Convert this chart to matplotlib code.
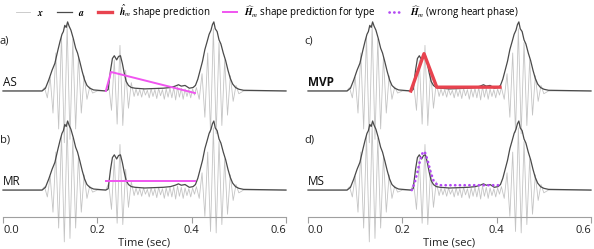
import numpy as np
import matplotlib.pyplot as plt

plt.rcParams['font.family'] = ['Open Sans', 'DejaVu Sans']
plt.rcParams['mathtext.fontset'] = 'stix'

# heart sound x (peak/valley points)
x_t = [0.0, 0.082,
       0.088, 0.094, 0.100, 0.106, 0.112, 0.118, 0.124, 0.130, 0.136, 0.142,
       0.148, 0.154, 0.160, 0.166, 0.172, 0.178, 0.184, 0.190, 0.200,
       0.218, 0.224, 0.230, 0.236, 0.242, 0.248, 0.254, 0.260, 0.266, 0.272,
       0.278, 0.282, 0.286, 0.290, 0.294, 0.298, 0.302, 0.306, 0.310, 0.314,
       0.318, 0.322, 0.326, 0.330, 0.334, 0.338, 0.342, 0.346, 0.350, 0.354,
       0.358, 0.362, 0.366, 0.370, 0.374, 0.378, 0.382, 0.386, 0.390, 0.394,
       0.398, 0.402, 0.406,
       0.410, 0.416, 0.422, 0.428, 0.434, 0.440, 0.446, 0.452, 0.458, 0.464,
       0.470, 0.476, 0.482, 0.488, 0.494, 0.500, 0.510, 0.6]
x_v = [0.0, 0.0,
       0.05, -0.10, 0.20, -0.32, 0.55, -0.55, 0.80, -0.75, 0.95, -0.70,
       0.75, -0.55, 0.50, -0.32, 0.22, -0.12, 0.06, -0.03, 0.0,
       0.0, 0.10, -0.28, 0.45, -0.48, 0.66, -0.50, 0.30, -0.25, 0.12,
       -0.08, 0.03, -0.07, 0.02, -0.09, 0.03, -0.06, 0.01, -0.10, 0.03,
       -0.08, 0.02, -0.11, 0.04, -0.07, 0.02, -0.12, 0.03, -0.09, 0.04,
       -0.10, 0.05, -0.13, 0.06, -0.09, 0.04, -0.12, 0.03, -0.08, 0.02,
       -0.10, 0.03, -0.06,
       0.05, -0.12, 0.25, -0.38, 0.55, -0.60, 0.90, -0.62, 0.70, -0.50,
       0.45, -0.35, 0.22, -0.15, 0.08, -0.04, 0.0, 0.0]

# envelope a
a_t = [0.0, 0.083, 0.090, 0.097, 0.104, 0.110, 0.116, 0.121, 0.125, 0.128,
       0.131, 0.134, 0.137, 0.140, 0.144, 0.149, 0.154, 0.158, 0.163, 0.168,
       0.173, 0.178, 0.184, 0.192, 0.218, 0.223, 0.228, 0.232, 0.236, 0.241,
       0.245, 0.249, 0.253, 0.257, 0.261, 0.266, 0.272, 0.280, 0.300, 0.320,
       0.340, 0.355, 0.365, 0.372, 0.378, 0.386, 0.395, 0.403, 0.408, 0.413,
       0.418, 0.423, 0.428, 0.433, 0.437, 0.441, 0.444, 0.447, 0.450, 0.454,
       0.458, 0.462, 0.467, 0.472, 0.477, 0.482, 0.487, 0.493, 0.500, 0.510, 0.6]
a_v = [0.0, 0.0, 0.04, 0.16, 0.30, 0.40, 0.58, 0.72, 0.82, 0.86,
       0.95, 0.92, 1.0, 0.94, 0.88, 0.76, 0.62, 0.55, 0.42, 0.28,
       0.16, 0.08, 0.04, 0.015, 0.0, 0.02, 0.30, 0.47, 0.51, 0.45,
       0.50, 0.51, 0.40, 0.26, 0.14, 0.08, 0.05, 0.04, 0.03, 0.035,
       0.04, 0.05, 0.07, 0.09, 0.07, 0.08, 0.04, 0.05, 0.08, 0.17,
       0.30, 0.43, 0.60, 0.72, 0.82, 0.88, 0.96, 1.0, 0.90, 0.86,
       0.74, 0.68, 0.55, 0.44, 0.30, 0.18, 0.10, 0.05, 0.025, 0.01, 0.0]

# predictions
as_t = [0.218, 0.229, 0.407]
as_v = [0.0, 0.275, -0.03]
mr_t = [0.218, 0.407]
mr_v = [0.13, 0.13]
mvp_t = [0.218, 0.246, 0.273, 0.407]
mvp_v = [0.0, 0.54, 0.055, 0.055]
ms_t = [0.220, 0.226, 0.232, 0.238, 0.243, 0.246, 0.249, 0.254, 0.260, 0.266,
        0.272, 0.280, 0.300, 0.330, 0.360, 0.380, 0.395, 0.410]
ms_v = [0.0, 0.10, 0.26, 0.44, 0.54, 0.56, 0.53, 0.42, 0.26, 0.14,
        0.09, 0.07, 0.07, 0.07, 0.07, 0.07, 0.07, 0.07]

c_x = '#c4c4c4'
c_a = '#4a4a4a'
c_red = '#e8434f'
c_mag = '#f055f0'
c_pur = '#b248f2'

fig = plt.figure(figsize=(5.94, 2.49), dpi=100)
lefts = [3 / 594, 308 / 594]
w = 283 / 594
bots = [(249 - 117.9) / 249, (249 - 217) / 249]
h = 0.4133

panels = [
    (0, 0, 'a)', 'AS', as_t, as_v, c_mag, '-', False),
    (1, 0, 'b)', 'MR', mr_t, mr_v, c_mag, '-', False),
    (0, 1, 'c)', 'MVP', mvp_t, mvp_v, c_red, '-', True),
    (1, 1, 'd)', 'MS', ms_t, ms_v, c_pur, ':', False),
]

handles = {}
for row, col, tag, name, pt, pv, pc, ls, bold in panels:
    ax = fig.add_axes([lefts[col], bots[row], w, h])
    ax.patch.set_visible(False)
    hx, = ax.plot(x_t, x_v, color=c_x, lw=0.6, clip_on=False)
    ha, = ax.plot(a_t, a_v, color=c_a, lw=0.9, clip_on=False)
    if ls == ':':
        hp, = ax.plot(pt, pv, color=pc, lw=1.9, ls=(0, (0.1, 1.7)),
                      dash_capstyle='round', clip_on=False)
    elif pc == c_red:
        hp, = ax.plot(pt, pv, color=pc, lw=2.4, clip_on=False)
    else:
        hp, = ax.plot(pt, pv, color=pc, lw=1.4, clip_on=False)
    handles[name] = hp
    handles['x'] = hx
    handles['a'] = ha
    ax.set_xlim(0, 0.6)
    ax.set_ylim(-0.39, 1.1)
    for s in ['top', 'right', 'left']:
        ax.spines[s].set_visible(False)
    ax.set_yticks([])
    ax.text(-0.007, 0.72, tag, fontsize=8, color='#222222', va='center', ha='left')
    ax.text(0.0, 0.12, name, fontsize=8.5, color='#111111', va='center', ha='left',
            fontweight='bold' if bold else 'normal')
    if row == 1:
        ax.spines['bottom'].set_color('#a0a0a0')
        ax.spines['bottom'].set_linewidth(0.8)
        ax.set_xticks([0.0, 0.2, 0.4, 0.6])
        ax.set_xticklabels(['0.0', '0.2', '0.4', '0.6'])
        ax.tick_params(axis='x', length=4, width=0.8, color='#a0a0a0',
                       labelsize=8, labelcolor='#222222', pad=2)
        labs = ax.get_xticklabels()
        labs[0].set_ha('left')
        labs[-1].set_ha('right')
        ax.set_xlabel('Time (sec)', fontsize=8, color='#222222', labelpad=1)
    else:
        ax.spines['bottom'].set_visible(False)
        ax.set_xticks([])

fig.legend([handles['x'], handles['a'], handles['MVP'], handles['AS'], handles['MS']],
           [r'$\mathbfit{x}$', r'$\mathbfit{a}$',
            r'$\hat{\mathbfit{h}}_m$ shape prediction',
            r'$\widehat{\mathbfit{H}}_m$ shape prediction for type',
            r'$\widehat{\mathbfit{H}}_m$ (wrong heart phase)'],
           loc='upper left', bbox_to_anchor=(0.012, 1.025), ncol=5, frameon=False,
           fontsize=7, handlelength=1.5, handletextpad=0.7, columnspacing=1.3)

fig.savefig('out.png', dpi=100)
